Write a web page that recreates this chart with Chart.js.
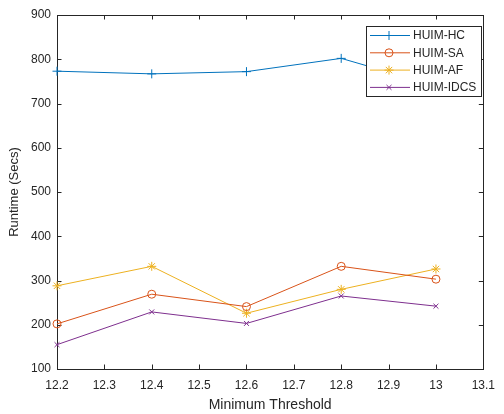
<!DOCTYPE html>
<html>
<head>
<meta charset="utf-8">
<script src="https://cdn.jsdelivr.net/npm/chart.js@4.4.0/dist/chart.umd.min.js"></script>
<style>
    html, body { margin: 0; padding: 0; background: #fff; }
    #wrap { width: 504px; height: 414px; }
</style>
</head>
<body>
<div id="wrap"><canvas id="grafica" width="504" height="414"></canvas></div>
<script>
// Umbrales (eje x) y tiempos de ejecucion de cada algoritmo
const umbrales = [12.2, 12.4, 12.6, 12.8, 13];
const huimHC = [773, 767, 772, 802, 740];
const huimSA = [202, 269, 241, 332, 303];
const huimAF = [288, 332, 226, 280, 326];
const huimIDCS = [155, 229, 203, 265, 242];

const nombres = ['HUIM-HC', 'HUIM-SA', 'HUIM-AF', 'HUIM-IDCS'];
const colores = ['#0072BD', '#D95319', '#EDB120', '#7E2F8E'];
const marcadores = ['cross', 'circle', 'star', 'crossRot'];
const radios = [4.5, 4, 4.5, 3.5];

const xTicks = [12.2, 12.3, 12.4, 12.5, 12.6, 12.7, 12.8, 12.9, 13, 13.1];
const yTicks = [100, 200, 300, 400, 500, 600, 700, 800, 900];

const fuente = '"Liberation Sans", Arial, sans-serif';
const gris = '#262626';

function puntos(valores) {
    return umbrales.map((u, i) => ({ x: u, y: valores[i] }));
}

const series = [huimHC, huimSA, huimAF, huimIDCS];
const datasets = series.map((s, i) => ({
    label: nombres[i],
    data: puntos(s),
    borderColor: colores[i],
    backgroundColor: 'transparent',
    borderWidth: 1,
    pointStyle: marcadores[i],
    pointRadius: radios[i],
    pointBorderWidth: 1,
    pointBorderColor: colores[i],
    pointBackgroundColor: 'transparent',
    tension: 0,
    clip: false
}));

// Caja del eje con marcas hacia dentro (estilo MATLAB)
const cajaEjes = {
    id: 'cajaEjes',
    beforeDatasetsDraw(chart) {
        const { ctx, chartArea: a, scales } = chart;
        ctx.save();
        ctx.strokeStyle = gris;
        ctx.lineWidth = 1;
        ctx.strokeRect(Math.round(a.left) + 0.5, Math.round(a.top) + 0.5,
            Math.round(a.right - a.left), Math.round(a.bottom - a.top));
        const largo = 4.5;
        ctx.beginPath();
        xTicks.forEach(t => {
            const px = Math.round(scales.x.getPixelForValue(t)) + 0.5;
            ctx.moveTo(px, a.bottom); ctx.lineTo(px, a.bottom - largo);
            ctx.moveTo(px, a.top); ctx.lineTo(px, a.top + largo);
        });
        yTicks.forEach(t => {
            const py = Math.round(scales.y.getPixelForValue(t)) + 0.5;
            ctx.moveTo(a.left, py); ctx.lineTo(a.left + largo, py);
            ctx.moveTo(a.right, py); ctx.lineTo(a.right - largo, py);
        });
        ctx.stroke();
        ctx.restore();
    }
};

// Leyenda dentro del area del grafico, esquina superior derecha
const leyendaCaja = {
    id: 'leyendaCaja',
    afterDraw(chart) {
        const ctx = chart.ctx;
        const x0 = 366.5, y0 = 26.5, w = 115, h = 70;
        ctx.save();
        ctx.fillStyle = '#fff';
        ctx.fillRect(x0, y0, w, h);
        ctx.strokeStyle = gris;
        ctx.lineWidth = 1;
        ctx.strokeRect(x0, y0, w, h);
        ctx.font = '12px ' + fuente;
        ctx.textBaseline = 'middle';
        chart.data.datasets.forEach((ds, i) => {
            const y = 35.5 + i * 17.3;
            ctx.strokeStyle = ds.borderColor;
            ctx.lineWidth = 1;
            ctx.beginPath();
            ctx.moveTo(370, y); ctx.lineTo(410, y);
            ctx.stroke();
            ctx.fillStyle = 'rgba(0,0,0,0)';
            Chart.helpers.drawPoint(ctx, {
                pointStyle: ds.pointStyle, radius: ds.pointRadius, rotation: 0, borderWidth: 1
            }, 389, y);
            ctx.fillStyle = gris;
            ctx.fillText(ds.label, 413, y + 0.5);
        });
        ctx.restore();
    }
};

const ctx = document.getElementById('grafica').getContext('2d');
new Chart(ctx, {
    type: 'line',
    data: { datasets: datasets },
    options: {
        responsive: false,
        animation: false,
        devicePixelRatio: 1,
        layout: { padding: { top: 15, right: 12, left: 0, bottom: 0 } },
        plugins: {
            legend: { display: false },
            tooltip: { enabled: false }
        },
        scales: {
            x: {
                type: 'linear',
                min: 12.2,
                max: 13.1,
                afterBuildTicks: (scale) => { scale.ticks = xTicks.map(v => ({ value: v })); },
                afterFit: (scale) => { scale.height = 45; },
                grid: { display: false, drawTicks: false },
                border: { display: false },
                ticks: {
                    color: gris,
                    font: { family: fuente, size: 12 },
                    padding: 9,
                    maxRotation: 0,
                    autoSkip: false,
                    callback: (v) => String(Number(Number(v).toFixed(1)))
                },
                title: {
                    display: true,
                    text: 'Minimum Threshold',
                    color: gris,
                    font: { family: fuente, size: 14 },
                    padding: { top: 2, bottom: 0 }
                }
            },
            y: {
                min: 100,
                max: 900,
                afterBuildTicks: (scale) => { scale.ticks = yTicks.map(v => ({ value: v })); },
                afterFit: (scale) => { scale.width = 57; },
                grid: { display: false, drawTicks: false },
                border: { display: false },
                ticks: {
                    color: gris,
                    font: { family: fuente, size: 12 },
                    padding: 6
                },
                title: {
                    display: true,
                    text: 'Runtime (Secs)',
                    color: gris,
                    font: { family: fuente, size: 13 },
                    padding: { top: 7, bottom: 4 }
                }
            }
        }
    },
    plugins: [cajaEjes, leyendaCaja]
});
</script>
</body>
</html>
